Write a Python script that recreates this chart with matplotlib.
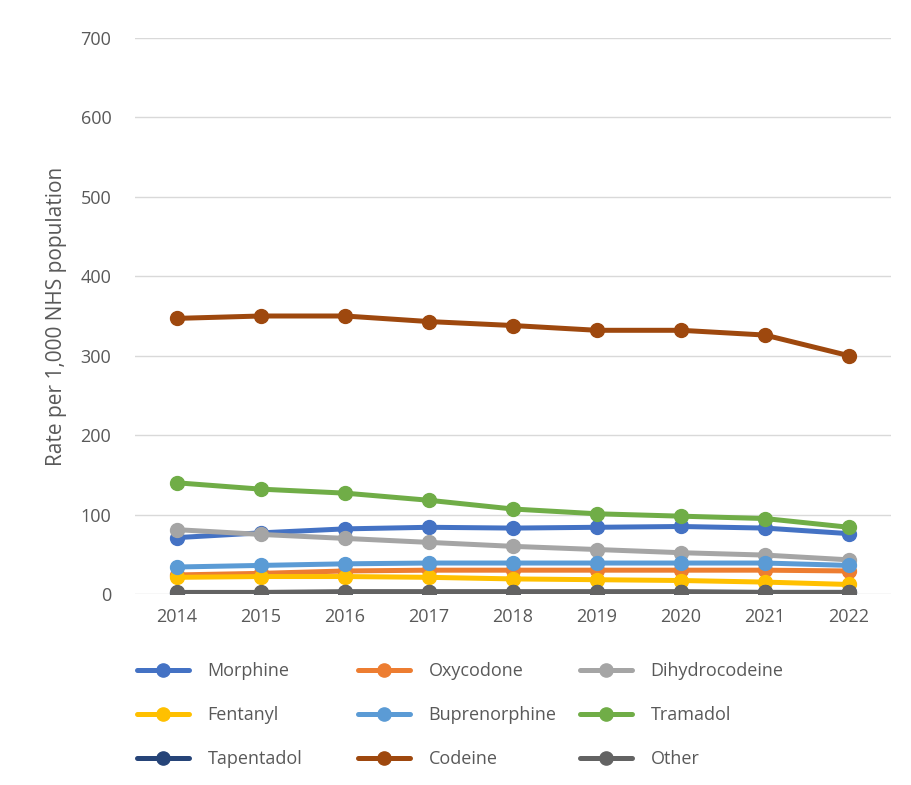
import matplotlib
import matplotlib.pyplot as plt
import numpy as np

matplotlib.use("Agg")

YEARS = ["2014", "2015", "2016", "2017", "2018", "2019", "2020", "2021", "2022"]

SERIES_NAMES = ["Morphine", "Oxycodone", "Dihydrocodeine",
                "Fentanyl", "Buprenorphine", "Tramadol",
                "Tapentadol", "Codeine", "Other"]

morphine       = [71, 77, 82, 84, 83, 84, 85, 83, 76]
oxycodone      = [24, 26, 29, 30, 30, 30, 30, 30, 29]
dihydrocodeine = [81, 75, 70, 65, 60, 56, 52, 49, 43]
fentanyl       = [21, 22, 22, 21, 19, 18, 17, 15, 12]
buprenorphine  = [34, 36, 38, 39, 39, 39, 39, 39, 36]
tramadol       = [140, 132, 127, 118, 107, 101, 98, 95, 84]
tapentadol     = [1, 1, 2, 2, 2, 2, 2, 2, 2]
codeine        = [347, 350, 350, 343, 338, 332, 332, 326, 300]
other          = [2, 2, 3, 3, 3, 3, 3, 2, 2]

VALUES = [morphine, oxycodone, dihydrocodeine, fentanyl, buprenorphine,
          tramadol, tapentadol, codeine, other]

COLORS = ["#4472C4", "#ED7D31", "#A5A5A5", "#FFC000", "#5B9BD5",
          "#70AD47", "#264478", "#9E480E", "#636363"]

TEXT = "#595959"
plt.rcParams["font.family"] = ["Open Sans", "DejaVu Sans"]

fig = plt.figure(figsize=(9.12, 7.85), dpi=100)
ax = fig.add_axes([0.148, 0.2433, 0.829, 0.7083])

x = np.arange(len(YEARS))
handles = []
for name, vals, col in zip(SERIES_NAMES, VALUES, COLORS):
    h, = ax.plot(x, vals, color=col, lw=3.6, marker="o", ms=10,
                 solid_capstyle="round", label=name, zorder=3)
    handles.append(h)

ax.set_xlim(-0.5, len(YEARS) - 0.5)
ax.set_ylim(0, 700)
ax.set_yticks(np.arange(0, 701, 100))
ax.set_xticks(x)
ax.set_xticklabels(YEARS)
ax.grid(axis="y", color="#d9d9d9", lw=1)
ax.set_axisbelow(True)
for s in ax.spines.values():
    s.set_visible(False)
ax.tick_params(length=0, labelsize=13, colors=TEXT, pad=10)
ax.tick_params(axis="y", pad=17)
ax.set_ylabel("Rate per 1,000 NHS population", fontsize=15, color=TEXT,
              labelpad=10)

# legend laid out row by row: one single-column legend per column
col_x = [137, 358, 580]
for c in range(3):
    idx = [c, c + 3, c + 6]
    fig.legend([handles[i] for i in idx], [SERIES_NAMES[i] for i in idx],
               ncol=1, loc="upper left",
               bbox_to_anchor=(col_x[c] / 912, 1 - 662 / 785),
               frameon=False, fontsize=13, labelcolor=TEXT,
               handlelength=2.9, handletextpad=1.0,
               labelspacing=1.45, markerscale=0.95,
               borderpad=0, borderaxespad=0)

fig.savefig("out.png", dpi=100)
